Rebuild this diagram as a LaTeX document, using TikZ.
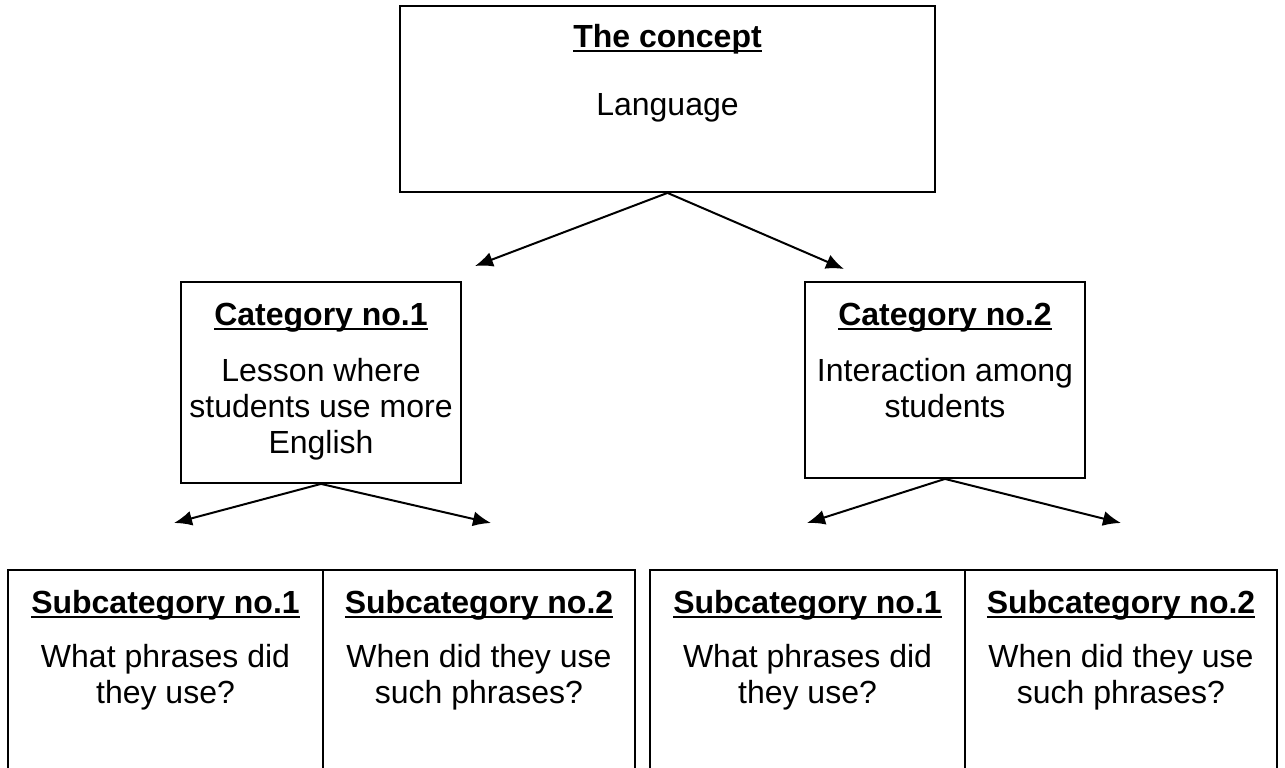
\documentclass[tikz,border=0pt]{standalone}
\usepackage{fontspec}
\setmainfont{Liberation Sans}
\usetikzlibrary{arrows.meta}
\newcommand{\cattitle}[1]{\setbox0\hbox{\bfseries #1}\rlap{\rule[-2.6pt]{\wd0}{1.3pt}}\box0}
\tikzstyle{box}=[draw, rectangle, line width=0.9pt, inner sep=0pt]
\tikzstyle{title}=[anchor=base, inner sep=0pt, font=\fontsize{16}{18}\selectfont]
\tikzstyle{txt}=[anchor=base, inner sep=0pt, align=center, font=\fontsize{16}{18}\selectfont]
\tikzstyle{arrow}=[draw=black, line width=1pt, -{Latex[length=9pt,width=7.5pt]}]

\begin{document}
\begin{tikzpicture}[x=0.5pt, y=-0.5pt]
	\useasboundingbox (0,0) rectangle (1285,767);
	\begin{scope}
		\node (concept) at (667.5, 99)[box, minimum width=267.5pt, minimum height=93pt] {};
		\node (cat1) at (321, 382.5)[box, minimum width=140pt, minimum height=100.5pt] {};
		\node (cat2) at (945, 380)[box, minimum width=140pt, minimum height=98pt] {};
		\node (sub11) at (165.5, 680)[box, minimum width=157.5pt, minimum height=110pt] {};
		\node (sub12) at (479, 680)[box, minimum width=156pt, minimum height=110pt] {};
		\node (sub21) at (807.5, 680)[box, minimum width=157.5pt, minimum height=110pt] {};
		\node (sub22) at (1121, 680)[box, minimum width=156pt, minimum height=110pt] {};
	\end{scope}
	\begin{scope}
		\node (concept-h) at (667.5, 47)[title] {\cattitle{The concept}};
		\node (concept-t) at (667.5, 115)[txt] {Language};
		\node (cat1-h) at (321, 325)[title] {\cattitle{Category no.1}};
		\node (cat1-t) at (321, 453)[txt] {Lesson where\\students use more\\English};
		\node (cat2-h) at (945, 325)[title] {\cattitle{Category no.2}};
		\node (cat2-t) at (945, 417)[txt] {Interaction among\\students};
		\node (sub11-h) at (165.5, 613)[title] {\cattitle{Subcategory no.1}};
		\node (sub11-t) at (165.5, 703)[txt] {What phrases did\\they use?};
		\node (sub12-h) at (479, 613)[title] {\cattitle{Subcategory no.2}};
		\node (sub12-t) at (479, 703)[txt] {When did they use\\such phrases?};
		\node (sub21-h) at (807.5, 613)[title] {\cattitle{Subcategory no.1}};
		\node (sub21-t) at (807.5, 703)[txt] {What phrases did\\they use?};
		\node (sub22-h) at (1121, 613)[title] {\cattitle{Subcategory no.2}};
		\node (sub22-t) at (1121, 703)[txt] {When did they use\\such phrases?};
	\end{scope}
	\begin{scope}
		\coordinate (tip1) at (475, 266);
		\coordinate (tip2) at (844, 269);
		\coordinate (tip11) at (174, 523);
		\coordinate (tip12) at (491, 523);
		\coordinate (tip21) at (807, 523);
		\coordinate (tip22) at (1121, 523);
		\path [arrow] (concept.south) -- (tip1);
		\path [arrow] (concept.south) -- (tip2);
		\path [arrow] (cat1.south) -- (tip11);
		\path [arrow] (cat1.south) -- (tip12);
		\path [arrow] (cat2.south) -- (tip21);
		\path [arrow] (cat2.south) -- (tip22);
	\end{scope}
\end{tikzpicture}
\end{document}
